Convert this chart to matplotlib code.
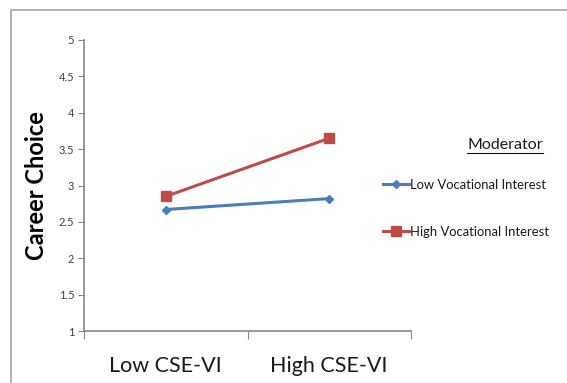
import matplotlib
matplotlib.use("Agg")
import matplotlib.pyplot as plt
from matplotlib.patches import Rectangle

plt.rcParams['font.family'] = ['Lato', 'DejaVu Sans']

categories = ["Low CSE-VI", "High CSE-VI"]
low_vi = [2.67, 2.82]
high_vi = [2.85, 3.65]
series_names = ["Low Vocational Interest", "High Vocational Interest"]
y_ticks = [1, 1.5, 2, 2.5, 3, 3.5, 4, 4.5, 5]

fig = plt.figure(figsize=(5.67, 3.83), dpi=100)
# grey frame round the chart area (runs off the right and bottom)
fig.patches.append(Rectangle((11/567, -0.1), 1.2, 1 - 10/383 + 0.1, transform=fig.transFigure,
                             fill=False, edgecolor="#a6a6a6", linewidth=1.2))

ax = fig.add_axes([84/567, 52/383, 327/567, 291/383])
x = [0.5, 1.5]
ax.plot(x, low_vi, color="#4a7ebb", lw=2.2, marker="D", ms=4.5, label=series_names[0])
ax.plot(x, high_vi, color="#be4b48", lw=2.2, marker="s", ms=7, label=series_names[1])

ax.set_xlim(0, 2)
ax.set_ylim(1, 5)
ax.set_yticks(y_ticks)
ax.set_yticklabels([f"{v:g}" for v in y_ticks], fontsize=8, color="#404040")
ax.set_xticks([0, 1, 2])
ax.set_xticklabels([])
ax.set_xticks(x, minor=True)
ax.set_xticklabels(categories, minor=True, fontsize=15.5, color="#1a1a1a")
ax.tick_params(axis="x", which="minor", length=0, pad=18)
ax.tick_params(axis="x", which="major", length=6, color="#868686", direction="out")
ax.tick_params(axis="y", length=4, color="#868686", direction="out", pad=3)
for s in ["top", "right"]:
    ax.spines[s].set_visible(False)
for s in ["left", "bottom"]:
    ax.spines[s].set_color("#868686")
    ax.spines[s].set_linewidth(1.2)

ax.set_ylabel("Career Choice", fontsize=17, fontweight="bold", labelpad=8)

# legend title, underlined
fig.text(505/567, 1 - 145/383, "Moderator", fontsize=11.5, ha="center", va="center",
         color="#1a1a1a")
fig.lines.append(plt.Line2D([467/567, 543/567], [1 - 153/383, 1 - 153/383],
                            transform=fig.transFigure, color="#1a1a1a", lw=0.8))
leg = ax.legend(loc="upper left", bbox_to_anchor=(376/567, 1 - 172/383),
                bbox_transform=fig.transFigure, frameon=False, fontsize=9.4,
                handlelength=2.0, handletextpad=0.1, labelspacing=2.7, borderpad=0)
for t in leg.get_texts():
    t.set_color("#1a1a1a")

fig.savefig("out.png", dpi=100)
